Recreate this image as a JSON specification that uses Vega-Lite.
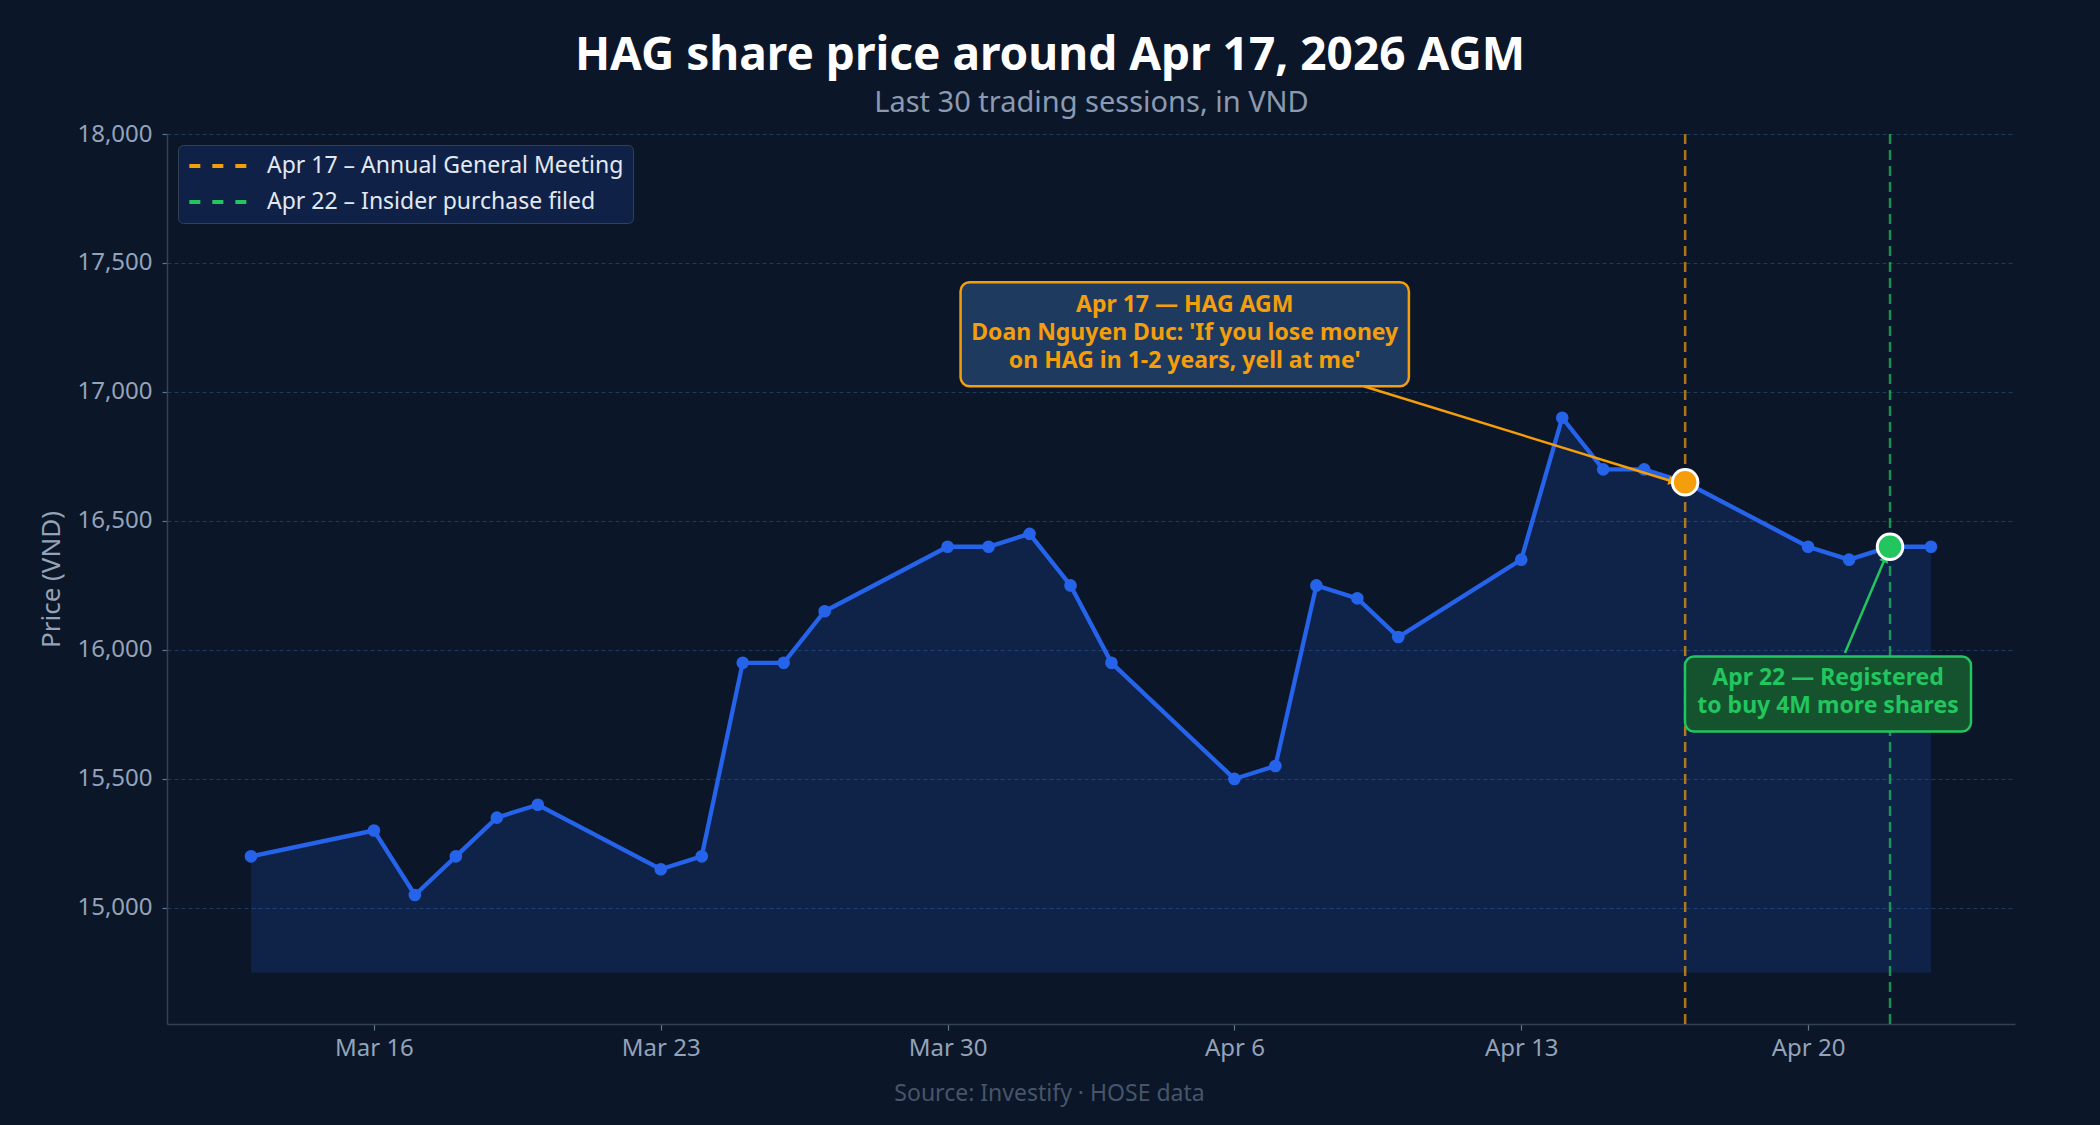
{
  "$schema": "https://vega.github.io/schema/vega-lite/v6.json",
  "autosize": {"type": "none"},
  "padding": {"left": 167, "top": 134, "right": 85, "bottom": 101},
  "width": 1848,
  "height": 890,
  "background": "#0b1628",
  "title": {
    "text": "HAG share price around Apr 17, 2026 AGM",
    "anchor": "middle",
    "frame": "group",
    "dx": -41,
    "offset": 8,
    "font": "Noto Sans",
    "fontSize": 46,
    "fontWeight": "bold",
    "color": "#ffffff"
  },
  "resolve": {"axis": {"x": "independent"}},
  "datasets": {
    "prices": [
      {"date": "2026-03-13T00:00:00", "price": 15200},
      {"date": "2026-03-16T00:00:00", "price": 15300},
      {"date": "2026-03-17T00:00:00", "price": 15050},
      {"date": "2026-03-18T00:00:00", "price": 15200},
      {"date": "2026-03-19T00:00:00", "price": 15350},
      {"date": "2026-03-20T00:00:00", "price": 15400},
      {"date": "2026-03-23T00:00:00", "price": 15150},
      {"date": "2026-03-24T00:00:00", "price": 15200},
      {"date": "2026-03-25T00:00:00", "price": 15950},
      {"date": "2026-03-26T00:00:00", "price": 15950},
      {"date": "2026-03-27T00:00:00", "price": 16150},
      {"date": "2026-03-30T00:00:00", "price": 16400},
      {"date": "2026-03-31T00:00:00", "price": 16400},
      {"date": "2026-04-01T00:00:00", "price": 16450},
      {"date": "2026-04-02T00:00:00", "price": 16250},
      {"date": "2026-04-03T00:00:00", "price": 15950},
      {"date": "2026-04-06T00:00:00", "price": 15500},
      {"date": "2026-04-07T00:00:00", "price": 15550},
      {"date": "2026-04-08T00:00:00", "price": 16250},
      {"date": "2026-04-09T00:00:00", "price": 16200},
      {"date": "2026-04-10T00:00:00", "price": 16050},
      {"date": "2026-04-13T00:00:00", "price": 16350},
      {"date": "2026-04-14T00:00:00", "price": 16900},
      {"date": "2026-04-15T00:00:00", "price": 16700},
      {"date": "2026-04-16T00:00:00", "price": 16700},
      {"date": "2026-04-17T00:00:00", "price": 16650},
      {"date": "2026-04-20T00:00:00", "price": 16400},
      {"date": "2026-04-21T00:00:00", "price": 16350},
      {"date": "2026-04-22T00:00:00", "price": 16400},
      {"date": "2026-04-23T00:00:00", "price": 16400}
    ],
    "events": [
      {"date": "2026-04-17T00:00:00", "price": 16650, "event": "Apr 17 – Annual General Meeting"},
      {"date": "2026-04-22T00:00:00", "price": 16400, "event": "Apr 22 – Insider purchase filed"}
    ],
    "notes": [
      {
        "kind": "agm",
        "x0": "2026-03-30T07:36:00", "x1": "2026-04-10T06:12:00", "y0": 17022, "y1": 17425,
        "tx": "2026-04-04T18:54:00", "ty": 17339,
        "note": "Apr 17 — HAG AGM\nDoan Nguyen Duc: 'If you lose money\non HAG in 1-2 years, yell at me'",
        "ax0": "2026-04-09T03:42:00", "ay0": 17022, "ax1": "2026-04-16T16:42:00", "ay1": 16653
      },
      {
        "kind": "insider",
        "x0": "2026-04-16T23:55:00", "x1": "2026-04-23T23:25:00", "y0": 15684, "y1": 15975,
        "tx": "2026-04-20T11:40:00", "ty": 15891,
        "note": "Apr 22 — Registered\nto buy 4M more shares",
        "ax0": "2026-04-20T21:36:00", "ay0": 15988, "ax1": "2026-04-21T21:12:00", "ay1": 16356
      }
    ]
  },
  "layer": [
    {
      "data": {"name": "prices"},
      "mark": {"type": "area", "color": "#2563eb", "opacity": 0.16},
      "encoding": {
        "x": {
          "field": "date",
          "type": "temporal",
          "scale": {
            "domain": [
              {"year": 2026, "month": 3, "date": 10, "hours": 22, "minutes": 48},
              {"year": 2026, "month": 4, "date": 25, "hours": 1, "minutes": 12}
            ]
          },
          "axis": {
            "orient": "bottom",
            "values": [
              {"year": 2026, "month": 3, "date": 16},
              {"year": 2026, "month": 3, "date": 23},
              {"year": 2026, "month": 3, "date": 30},
              {"year": 2026, "month": 4, "date": 6},
              {"year": 2026, "month": 4, "date": 13},
              {"year": 2026, "month": 4, "date": 20}
            ],
            "format": "%b %-d",
            "grid": false,
            "title": "Source: Investify · HOSE data",
            "titleFontSize": 23,
            "titleFontWeight": "normal",
            "titleColor": "#475569",
            "titleX": 882,
            "titleAnchor": "start",
            "titleAlign": "center",
            "titlePadding": 22
          }
        },
        "y": {
          "field": "price",
          "type": "quantitative",
          "scale": {"domain": [14550, 18000], "nice": false, "zero": false},
          "axis": {
            "values": [15000, 15500, 16000, 16500, 17000, 17500, 18000],
            "format": ",.0f",
            "title": "Price (VND)",
            "titleFontSize": 26,
            "titlePadding": 12
          }
        },
        "y2": {"datum": 14750}
      }
    },
    {
      "data": {"name": "events"},
      "mark": {"type": "rule", "strokeWidth": 2.5, "strokeDash": [10, 6], "opacity": 0.7},
      "encoding": {
        "x": {
          "field": "date",
          "type": "temporal",
          "axis": {
            "orient": "top",
            "labels": false,
            "ticks": false,
            "domain": false,
            "grid": false,
            "title": "Last 30 trading sessions, in VND",
            "titleFontSize": 29,
            "titleFontWeight": "normal",
            "titleColor": "#8b9ab0",
            "titlePadding": 17
          }
        },
        "color": {
          "field": "event",
          "type": "nominal",
          "scale": {
            "domain": ["Apr 17 – Annual General Meeting", "Apr 22 – Insider purchase filed"],
            "range": ["#f59e0b", "#22c55e"]
          },
          "legend": {
            "title": null,
            "orient": "top-left",
            "offset": 11,
            "padding": 9,
            "fillColor": "#0f2147",
            "strokeColor": "#334155",
            "cornerRadius": 5,
            "labelFontSize": 23,
            "labelColor": "#e2e8f0",
            "labelFont": "Noto Sans",
            "labelLimit": 600,
            "symbolType": "M-1,0H5",
            "symbolSize": 374,
            "symbolStrokeWidth": 4,
            "symbolDash": [11, 12],
            "symbolOpacity": 1,
            "labelOffset": 56,
            "rowPadding": 12
          }
        }
      }
    },
    {
      "data": {"name": "prices"},
      "mark": {"type": "line", "color": "#2563eb", "strokeWidth": 4.3},
      "encoding": {
        "x": {"field": "date", "type": "temporal", "axis": null},
        "y": {"field": "price", "type": "quantitative"}
      }
    },
    {
      "data": {"name": "prices"},
      "mark": {"type": "point", "filled": true, "color": "#2563eb", "size": 160, "opacity": 1},
      "encoding": {
        "x": {"field": "date", "type": "temporal", "axis": null},
        "y": {"field": "price", "type": "quantitative"}
      }
    },
    {
      "data": {"name": "notes"},
      "transform": [{"filter": "datum.kind === 'agm'"}],
      "mark": {"type": "rule", "color": "#f59e0b", "strokeWidth": 2.5},
      "encoding": {
        "x": {"field": "ax0", "type": "temporal", "axis": null},
        "y": {"field": "ay0", "type": "quantitative"},
        "x2": {"field": "ax1"},
        "y2": {"field": "ay1"}
      }
    },
    {
      "data": {"name": "notes"},
      "transform": [{"filter": "datum.kind === 'agm'"}],
      "mark": {"type": "point", "shape": "triangle-right", "filled": true, "color": "#f59e0b", "size": 90, "angle": 17, "opacity": 1},
      "encoding": {
        "x": {"field": "ax1", "type": "temporal", "axis": null},
        "y": {"field": "ay1", "type": "quantitative"}
      }
    },
    {
      "data": {"name": "notes"},
      "transform": [{"filter": "datum.kind === 'insider'"}],
      "mark": {"type": "rule", "color": "#22c55e", "strokeWidth": 2.5},
      "encoding": {
        "x": {"field": "ax0", "type": "temporal", "axis": null},
        "y": {"field": "ay0", "type": "quantitative"},
        "x2": {"field": "ax1"},
        "y2": {"field": "ay1"}
      }
    },
    {
      "data": {"name": "notes"},
      "transform": [{"filter": "datum.kind === 'insider'"}],
      "mark": {"type": "point", "shape": "triangle-right", "filled": true, "color": "#22c55e", "size": 90, "angle": 293, "opacity": 1},
      "encoding": {
        "x": {"field": "ax1", "type": "temporal", "axis": null},
        "y": {"field": "ay1", "type": "quantitative"}
      }
    },
    {
      "data": {"name": "events"},
      "mark": {"type": "point", "filled": true, "size": 650, "stroke": "#ffffff", "strokeWidth": 3, "opacity": 1},
      "encoding": {
        "x": {"field": "date", "type": "temporal", "axis": null},
        "y": {"field": "price", "type": "quantitative"},
        "fill": {
          "field": "event",
          "type": "nominal",
          "scale": {
            "domain": ["Apr 17 – Annual General Meeting", "Apr 22 – Insider purchase filed"],
            "range": ["#f59e0b", "#22c55e"]
          },
          "legend": null
        }
      }
    },
    {
      "data": {"name": "notes"},
      "transform": [{"filter": "datum.kind === 'agm'"}],
      "mark": {"type": "rect", "fill": "#1e3a5f", "stroke": "#f59e0b", "strokeWidth": 2.5, "cornerRadius": 9},
      "encoding": {
        "x": {"field": "x0", "type": "temporal", "axis": null},
        "x2": {"field": "x1"},
        "y": {"field": "y0", "type": "quantitative"},
        "y2": {"field": "y1"}
      }
    },
    {
      "data": {"name": "notes"},
      "transform": [{"filter": "datum.kind === 'agm'"}],
      "mark": {"type": "text", "color": "#f59e0b", "font": "Noto Sans", "fontWeight": "bold", "fontSize": 23, "lineBreak": "\n", "lineHeight": 28, "align": "center", "baseline": "middle"},
      "encoding": {
        "x": {"field": "tx", "type": "temporal", "axis": null},
        "y": {"field": "ty", "type": "quantitative"},
        "text": {"field": "note"}
      }
    },
    {
      "data": {"name": "notes"},
      "transform": [{"filter": "datum.kind === 'insider'"}],
      "mark": {"type": "rect", "fill": "#14532d", "stroke": "#22c55e", "strokeWidth": 2.5, "cornerRadius": 9},
      "encoding": {
        "x": {"field": "x0", "type": "temporal", "axis": null},
        "x2": {"field": "x1"},
        "y": {"field": "y0", "type": "quantitative"},
        "y2": {"field": "y1"}
      }
    },
    {
      "data": {"name": "notes"},
      "transform": [{"filter": "datum.kind === 'insider'"}],
      "mark": {"type": "text", "color": "#22c55e", "font": "Noto Sans", "fontWeight": "bold", "fontSize": 23, "lineBreak": "\n", "lineHeight": 28, "align": "center", "baseline": "middle"},
      "encoding": {
        "x": {"field": "tx", "type": "temporal", "axis": null},
        "y": {"field": "ty", "type": "quantitative"},
        "text": {"field": "note"}
      }
    }
  ],
  "config": {
    "font": "Noto Sans",
    "view": {"stroke": null},
    "axis": {
      "labelFont": "Noto Sans",
      "titleFont": "Noto Sans",
      "labelFontSize": 24,
      "labelColor": "#94a3b8",
      "titleFontSize": 24,
      "titleFontWeight": "normal",
      "titleColor": "#94a3b8",
      "domainColor": "#334155",
      "domainWidth": 1.5,
      "tickColor": "#64748b",
      "tickSize": 5,
      "tickWidth": 1.2,
      "gridColor": "#1e3a5f",
      "gridDash": [4, 3],
      "gridWidth": 1.2
    },
    "axisY": {"labelPadding": 10},
    "axisX": {"labelPadding": 6, "tickSize": 6}
  }
}
